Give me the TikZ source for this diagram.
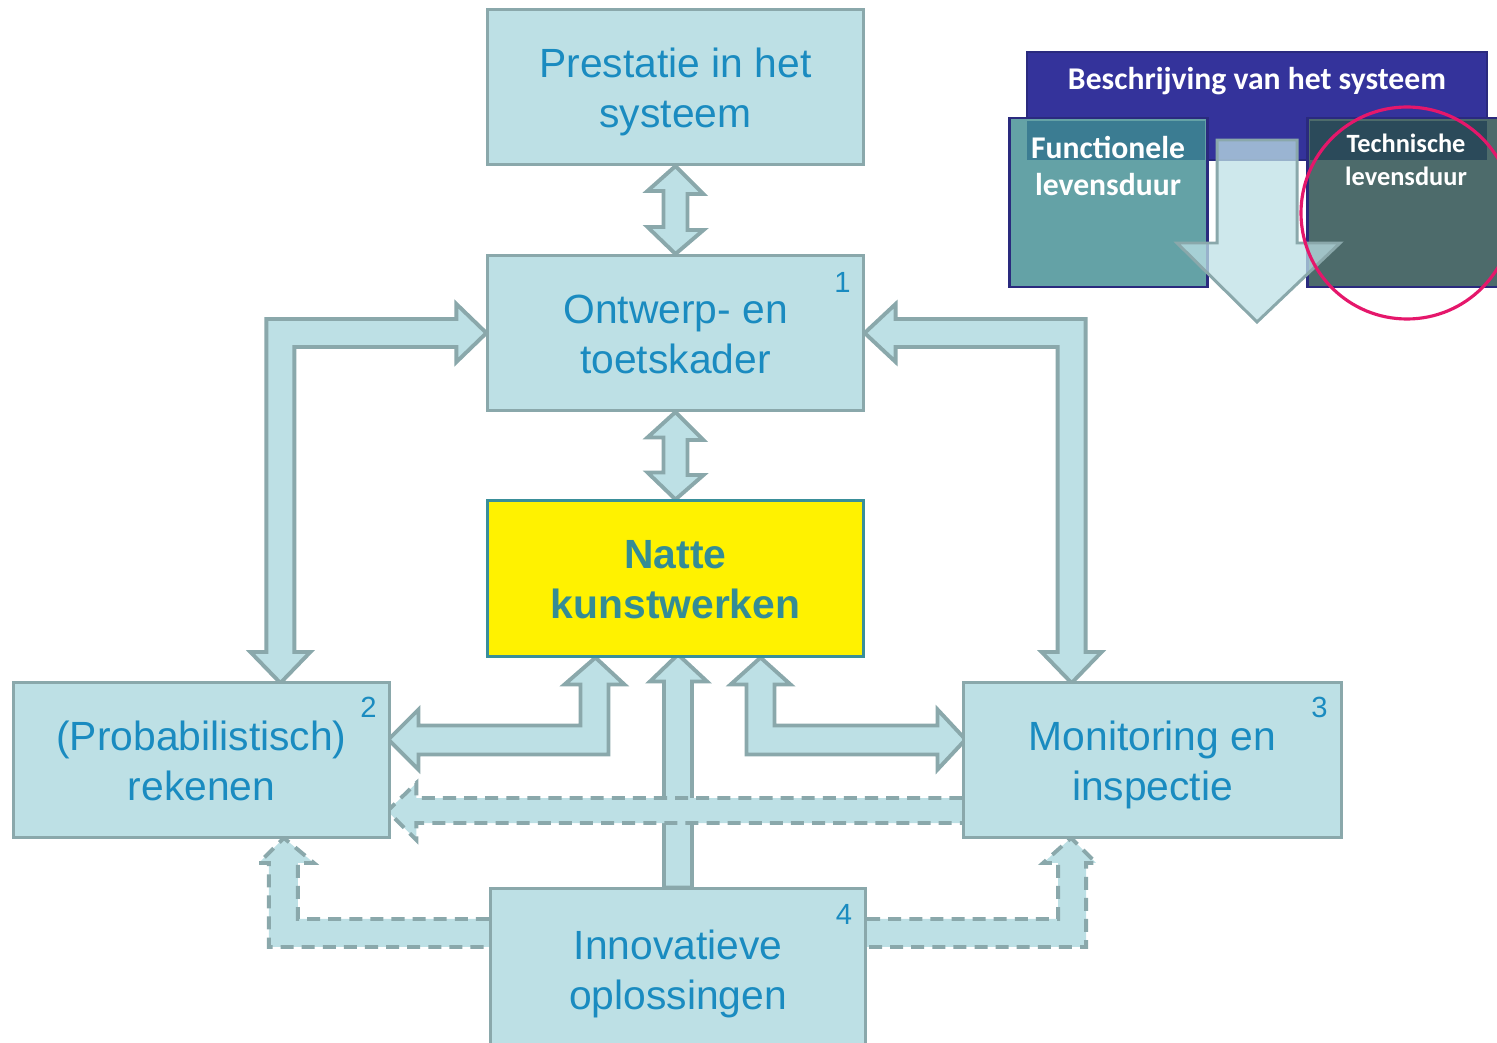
\documentclass[tikz,border=0pt]{standalone}
\usepackage{fontspec}
\setmainfont{Liberation Sans}
\newfontfamily\insetfont{Carlito}
\usetikzlibrary{backgrounds}

\definecolor{boxfill}{HTML}{BDE0E5}
\definecolor{boxline}{HTML}{8AA8AB}
\definecolor{boxtext}{HTML}{1A8BC0}
\definecolor{nattetext}{HTML}{348C95}
\definecolor{natteline}{HTML}{3A8F9A}
\definecolor{headblue}{HTML}{34339B}
\definecolor{navy}{HTML}{2A2A7E}
\definecolor{functeal}{HTML}{64A2A6}
\definecolor{funcstrip}{HTML}{3B7C92}
\definecolor{techslate}{HTML}{4D6B6B}
\definecolor{techstrip}{HTML}{2B4A5A}
\definecolor{ringred}{HTML}{E5176B}

\newcommand{\mainsize}{\fontsize{11.6}{14.2}\selectfont}
\newcommand{\nrsize}{\fontsize{8.3}{9}\selectfont}
% twee regels met vaste hoogte, los van onderkasten
\newcommand{\tworows}[2]{\raisebox{0pt}[8.6pt][0pt]{#1}\\\raisebox{0pt}[0pt][0pt]{#2}}

\tikzset{
  box/.style={draw=boxline, fill=boxfill, line width=0.85pt, minimum width=3.75cm,
    minimum height=1.55cm, align=center, text=boxtext, font=\mainsize, inner sep=0pt},
  nr/.style={text=boxtext, font=\nrsize},
  blockarrow/.style={draw=boxline, fill=boxfill, line width=1.1pt, line join=miter},
  dasharrow/.style={blockarrow, dash pattern=on 3.7pt off 2.3pt},
}

\begin{document}
\begin{tikzpicture}[x=0.01cm, y=-0.01cm]
  \useasboundingbox (0,0) rectangle (1497,1043);

  % de blokken
  \node[box] (prestatie) at (675.5,87) {\tworows{Prestatie in het}{systeem}};
  \node[box] (ontwerp) at (675.5,333) {\tworows{Ontwerp- en}{toetskader}};
  \node[box, fill=yellow, draw=natteline, text=nattetext, font=\mainsize\bfseries]
    (natte) at (675.5,578.5) {\tworows{Natte}{kunstwerken}};
  \node[box] (reken) at (201.5,760) {\tworows{(Probabilistisch)}{rekenen}};
  \node[box, minimum width=3.77cm] (monitor) at (1152.5,760) {\tworows{Monitoring en}{inspectie}};
  \node[box, minimum height=1.6cm] (innov) at (678,969) {\tworows{Innovatieve}{oplossingen}};

  \node[nr] (nr1) at ([xshift=-0.22cm, yshift=-0.28cm]ontwerp.north east) {1};
  \node[nr] (nr2) at ([xshift=-0.22cm, yshift=-0.26cm]reken.north east) {2};
  \node[nr] (nr3) at ([xshift=-0.23cm, yshift=-0.26cm]monitor.north east) {3};
  \node[nr] (nr4) at ([xshift=-0.23cm, yshift=-0.27cm]innov.north east) {4};

  \begin{scope}[on background layer]
    % dubbele pijlen in het midden
    \draw[blockarrow] (prestatie.south) -- ++(28,28) -- ++(-16,0) -- ++(0,36) -- ++(16,0)
      -- (ontwerp.north) -- ++(-28,-27) -- ++(16,0) -- ++(0,-36) -- ++(-16,0) -- cycle;
    \draw[blockarrow] (ontwerp.south) -- ++(28,28) -- ++(-16,0) -- ++(0,35) -- ++(16,0)
      -- (natte.north) -- ++(-28,-27) -- ++(16,0) -- ++(0,-35) -- ++(-16,0) -- cycle;
    % hoekpijlen naar 2 en 3
    \draw[blockarrow] (ontwerp.west) -- ++(-30,-29) -- ++(0,15) -- ++(-190,0) -- ++(0,333)
      -- ++(-16,0) -- ++(30,31) -- ++(30,-31) -- ++(-16,0) -- ++(0,-305) -- ++(162,0)
      -- ++(0,15) -- cycle;
    \draw[blockarrow] (ontwerp.east) -- ++(31,-29) -- ++(0,15) -- ++(190,0) -- ++(0,333)
      -- ++(16,0) -- ++(-30,31) -- ++(-30,-31) -- ++(16,0) -- ++(0,-305) -- ++(-162,0)
      -- ++(0,15) -- cycle;
    % onder de natte kunstwerken
    \draw[blockarrow] ([xshift=-0.8cm]natte.south) -- ++(29,27) -- ++(-16,0) -- ++(0,70)
      -- ++(-190,0) -- ++(0,15) -- ++(-30,-30) -- ++(30,-30) -- ++(0,16) -- ++(162,0)
      -- ++(0,-41) -- ++(-16,0) -- cycle;
    \draw[blockarrow] ([xshift=0.85cm]natte.south) -- ++(30,27) -- ++(-16,0) -- ++(0,41)
      -- ++(163,0) -- ++(0,-16) -- ++(28,30) -- ++(-28,30) -- ++(0,-15) -- ++(-191,0)
      -- ++(0,-70) -- ++(-16,0) -- cycle;
    \draw[blockarrow] ([xshift=0.14cm]innov.north) -- ++(0,-206) -- ++(15,0) -- ++(-29,-27)
      -- ++(-28,27) -- ++(14,0) -- ++(0,206) -- cycle;
    % gestippelde pijlen
    \draw[dasharrow] ([yshift=-0.38cm]monitor.west) -- ++(-546,0) -- ++(0,-15) -- ++(-29,28)
      -- ++(29,29) -- ++(0,-17) -- ++(546,0);
    \draw[dasharrow] ([yshift=0.5cm]innov.west) -- ++(-191,0) -- ++(0,-56) -- ++(16,0)
      -- ++(-30,-25) -- ++(-25,25) -- ++(10,0) -- ++(0,84) -- ++(220,0);
    \draw[dasharrow] ([yshift=0.5cm]innov.east) -- ++(191,0) -- ++(0,-56) -- ++(-15,0)
      -- ++(28,-25) -- ++(25,25) -- ++(-10,0) -- ++(0,84) -- ++(-219,0);
  \end{scope}

  % inzet rechtsboven
  \draw[fill=headblue, draw=navy, line width=0.6pt] (1027,52) rectangle (1487,160);
  \node[text=white, font=\insetfont\fontsize{9}{10.8}\selectfont\bfseries]
    (beschrijving) at (1257,81) {Beschrijving van het systeem};
  \draw[fill=functeal, draw=navy, line width=0.85pt] (1009,118) rectangle (1207,287);
  \fill[funcstrip] (1027,121) rectangle (1205,160);
  \draw[fill=techslate, draw=navy, line width=0.85pt] (1307,118) rectangle (1520,287);
  \fill[techstrip] (1310,121) rectangle (1487,160);
  \node[text=white, align=center, font=\insetfont\fontsize{9}{10.8}\selectfont\bfseries]
    (functioneel) at (1108,166) {Functionele\\levensduur};
  \node[text=white, align=center, font=\insetfont\fontsize{7.5}{9.4}\selectfont\bfseries]
    (technisch) at (1406,160) {Technische\\levensduur};
  \draw[fill=boxfill, fill opacity=0.75, draw=boxline, line width=0.85pt]
    (1217,140) -- (1297,140) -- (1297,243) -- (1340,243) -- (1257,322) -- (1177,243)
    -- (1217,243) -- cycle;
  \draw[ringred, line width=0.9pt] (1407,213) circle (106);
\end{tikzpicture}
\end{document}
